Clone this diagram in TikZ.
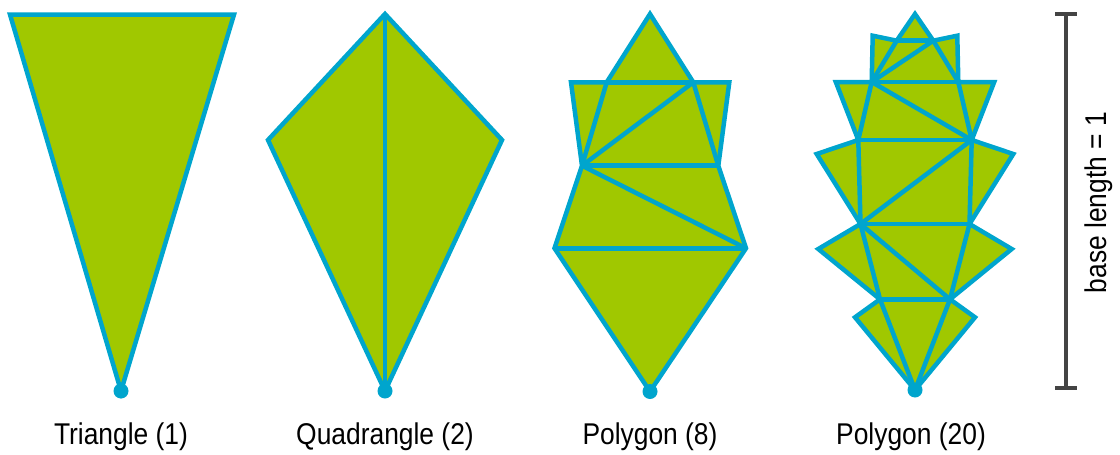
\documentclass[tikz,border=0pt]{standalone}
\usepackage{fontspec}
\setmainfont{Liberation Sans}[FakeStretch=0.88]
\definecolor{leaf}{RGB}{160,200,0}
\definecolor{edge}{RGB}{0,165,205}
\definecolor{bar}{RGB}{68,68,68}
\begin{document}
\begin{tikzpicture}[x=1pt,y=-1pt,
  shapeline/.style={draw=edge,line width=4.5pt,fill=leaf},
  inner/.style={draw=edge,line width=4.5pt},
  basedot/.style={fill=edge,draw=none},
  caption/.style={font=\fontsize{30}{36}\selectfont,anchor=base,inner sep=0pt,text=black},
  scalebar/.style={draw=bar,line width=4pt}]
\useasboundingbox (0,0) rectangle (1120,455);

% ---------- Triangle (1)
\coordinate (t1) at (10,14.5);
\coordinate (t2) at (234,14.5);
\coordinate (t3) at (121,391);
\draw[shapeline] (t1) -- (t2) -- (t3) -- cycle;
\fill[basedot] (t3) circle (7.5);
\node[caption] (lt) at (121,444) {Triangle (1)};

% ---------- Quadrangle (2)
\coordinate (q1) at (385,14);
\coordinate (q2) at (502,140);
\coordinate (q3) at (385,391);
\coordinate (q4) at (268,140);
\draw[shapeline] (q1) -- (q2) -- (q3) -- (q4) -- cycle;
\draw[inner] (q1) -- (q3);
\fill[basedot] (q3) circle (7.5);
\node[caption] (lq) at (385,444) {Quadrangle (2)};

% ---------- Polygon (8)
\coordinate (pa) at (650,14);
\coordinate (ptl) at (606.7,82.3);
\coordinate (ptr) at (693.3,82.3);
\coordinate (pol) at (571,82.3);
\coordinate (por) at (729.3,82.3);
\coordinate (pml) at (582,165.7);
\coordinate (pmr) at (718.3,165.7);
\coordinate (pwl) at (554.5,248.3);
\coordinate (pwr) at (746,248.3);
\coordinate (pb) at (650,391.5);
\draw[shapeline] (pa) -- (ptr) -- (por) -- (pmr) -- (pwr) -- (pb) -- (pwl)
  -- (pml) -- (pol) -- (ptl) -- cycle;
\draw[inner] (ptl) -- (ptr);
\draw[inner] (ptl) -- (pml);
\draw[inner] (pml) -- (ptr);
\draw[inner] (ptr) -- (pmr);
\draw[inner] (pml) -- (pmr);
\draw[inner] (pml) -- (pwr);
\draw[inner] (pwl) -- (pwr);
\fill[basedot] (pb) circle (7.5);
\node[caption] (lp8) at (650,444) {Polygon (8)};

% ---------- Polygon (20)
\coordinate (A) at (915,14);
\coordinate (B) at (896.7,40.7);
\coordinate (C) at (933.3,40.7);
\coordinate (D) at (872.7,35.7);
\coordinate (E) at (957.3,35.7);
\coordinate (F) at (871.7,82);
\coordinate (G) at (958.3,82);
\coordinate (H) at (835.8,82);
\coordinate (I) at (994.2,82);
\coordinate (J) at (858.3,140);
\coordinate (K) at (971.7,140);
\coordinate (L) at (816.7,154);
\coordinate (M) at (1013.3,154);
\coordinate (N) at (860.5,224);
\coordinate (O) at (969.5,224);
\coordinate (P) at (818.3,249);
\coordinate (Q) at (1011.7,249);
\coordinate (R) at (880,299.3);
\coordinate (S) at (950,299.3);
\coordinate (T) at (855,317.3);
\coordinate (U) at (975,317.3);
\coordinate (Z) at (915,390);
\draw[shapeline] (A) -- (C) -- (E) -- (G) -- (I) -- (K) -- (M) -- (O) -- (Q)
  -- (S) -- (U) -- (Z) -- (T) -- (R) -- (P) -- (N) -- (L) -- (J) -- (H)
  -- (F) -- (D) -- (B) -- cycle;
\draw[inner] (B) -- (C);
\draw[inner] (B) -- (F);
\draw[inner] (F) -- (C);
\draw[inner] (C) -- (G);
\draw[inner] (F) -- (G);
\draw[inner] (F) -- (J);
\draw[inner] (G) -- (K);
\draw[inner] (F) -- (K);
\draw[inner] (J) -- (K);
\draw[inner] (J) -- (N);
\draw[inner] (K) -- (O);
\draw[inner] (N) -- (K);
\draw[inner] (N) -- (O);
\draw[inner] (N) -- (R);
\draw[inner] (O) -- (S);
\draw[inner] (N) -- (S);
\draw[inner] (R) -- (S);
\draw[inner] (R) -- (Z);
\draw[inner] (S) -- (Z);
\fill[basedot] (Z) circle (7.5);
\node[caption] (lp20) at (911,444) {Polygon (20)};

% ---------- scale bar
\coordinate (st) at (1066,14);
\coordinate (sb) at (1066,388);
\coordinate (stl) at (1055,14);
\coordinate (str) at (1077,14);
\coordinate (sbl) at (1055,388);
\coordinate (sbr) at (1077,388);
\draw[scalebar] (st) -- (sb);
\draw[scalebar] (stl) -- (str);
\draw[scalebar] (sbl) -- (sbr);
\node[caption,rotate=90] (lbase) at (1106.5,202.5) {base length = 1};
\end{tikzpicture}
\end{document}
